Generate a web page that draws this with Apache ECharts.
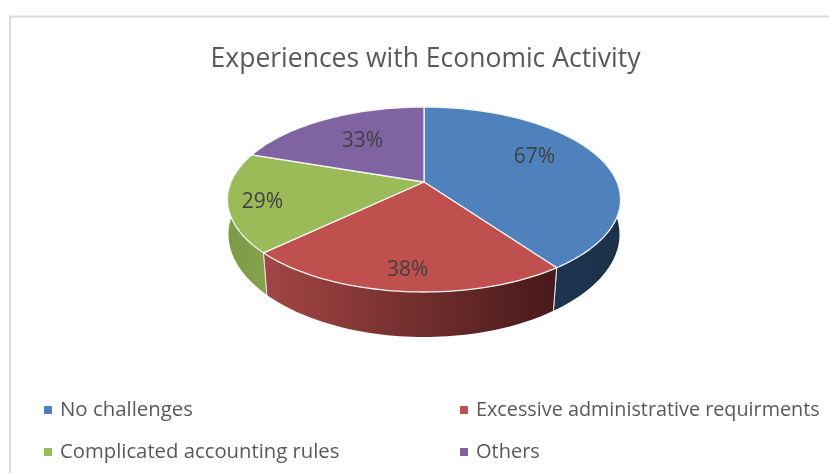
<!DOCTYPE html>
<html>
<head>
<meta charset="utf-8">
<style>html,body{margin:0;padding:0;background:#fff}#c{width:829px;height:473px}</style>
<script src="https://cdn.jsdelivr.net/npm/echarts@6/dist/echarts.min.js"></script>
</head>
<body>
<div id="c"></div>
<script>
const chartTitle = "Experiences with Economic Activity";
const categories = ["No challenges", "Excessive administrative requirments", "Complicated accounting rules", "Others"];
const values = [67, 38, 29, 33];
const topColors = ["#4F81BD", "#C0504D", "#9BBB59", "#8064A2"];
const wallFrom = ["#1D3552", "#A24644", "#7D9A46", "#5E4A78"];
const wallTo = ["#1C3049", "#47191A", "#86A14B", "#5E4A78"];
const labelAngles = [63, 185, 256, 326];
const labelRadii = [0.68, 0.825, 0.83, 0.626];
const legendLeft = [39, 455, 39, 455];
const legendTop = [395, 395, 437, 437];
const legendFontSizes = [20.4, 19.8, 20.3, 20];

const CX = 424, CY = 182, RX = 193, RY = 89.2, K = 0.189, DEPTH = 36.5, TAPER = 0.03;
const total = values.reduce((a, b) => a + b, 0);
const rad = d => d * Math.PI / 180;

function projTop(deg, r) {
  const u = Math.sin(rad(deg)) * r, v = Math.cos(rad(deg)) * r, d = 1 + K * v;
  return [CX + RX * u / d, CY - RY * v / d];
}
function projBottom(deg) {
  const u = Math.sin(rad(deg)), v = Math.cos(rad(deg)), d = 1 + K * v;
  const s = 1 + TAPER * Math.min(v, 0);
  return [CX + s * RX * u / d, CY - RY * v / d + DEPTH / d];
}
function arc(fn, a, b) {
  const pts = [], n = Math.max(2, Math.ceil(Math.abs(b - a) / 1.5));
  for (let i = 0; i <= n; i++) pts.push(fn(a + (b - a) * i / n));
  return pts;
}

function renderSlice(index) {
  const before = values.slice(0, index).reduce((a, b) => a + b, 0);
  const a0 = before / total * 360, a1 = (before + values[index]) / total * 360;
  const children = [];
  const wa = Math.max(a0, 72), wb = Math.min(a1, 288);
  if (wb > wa) {
    const pts = arc(t => projTop(t, 1), wa, wb).concat(arc(projBottom, wb, wa));
    children.push({
      type: "polygon",
      shape: { points: pts },
      style: {
        fill: new echarts.graphic.LinearGradient(0, 0, 1, 0, [
          { offset: 0, color: wallFrom[index] }, { offset: 1, color: wallTo[index] }
        ])
      }
    });
    const edges = [];
    if (a0 >= 90 && a0 < 270) edges.push(a0);
    if (a1 > 90 && a1 <= 270) edges.push(a1);
    edges.forEach(t => children.push({
      type: "polyline",
      shape: { points: [projTop(t, 1), projBottom(t)] },
      style: { fill: null, stroke: "#e6e6e6", lineWidth: 1 }
    }));
  }
  const top = [[CX, CY]].concat(arc(t => projTop(t, 1), a0, a1));
  children.push({
    type: "polygon",
    shape: { points: top },
    style: { fill: topColors[index], stroke: "#f4f4f4", lineWidth: 1.3, lineJoin: "round" }
  });
  const lp = projTop(labelAngles[index], labelRadii[index]);
  children.push({
    type: "text",
    z2: 10,
    style: {
      x: lp[0], y: lp[1] + 1.5, text: values[index] + "%",
      fill: "#404040", font: '21px "Open Sans"', align: "center", verticalAlign: "middle"
    }
  });
  return { type: "group", children };
}

const chart = echarts.init(document.getElementById("c"), null, { renderer: "canvas" });
chart.setOption({
  animation: false,
  backgroundColor: "#ffffff",
  title: {
    text: chartTitle, left: 420.5, top: 41, textAlign: "center",
    textStyle: { fontFamily: "Open Sans", fontSize: 26.5, fontWeight: "normal", color: "#595959" }
  },
  graphic: [{
    type: "rect", silent: true,
    shape: { x: 10, y: 16.5, width: 900, height: 600 },
    style: { fill: null, stroke: "#d9d9d9", lineWidth: 1.8 }
  }],
  legend: categories.map((c, i) => ({
    data: [c], left: legendLeft[i], top: legendTop[i], selectedMode: false,
    icon: "rect", itemWidth: 8, itemHeight: 8, itemGap: 8,
    textStyle: { fontFamily: "Open Sans", fontSize: legendFontSizes[i], color: "#595959", padding: [0, 0, 0, 3] }
  })),
  series: categories.map((c, i) => ({
    type: "custom", name: c, coordinateSystem: "none", silent: true,
    itemStyle: { color: topColors[i] },
    data: [[values[i]]],
    renderItem: () => renderSlice(i)
  }))
});
</script>
</body>
</html>
